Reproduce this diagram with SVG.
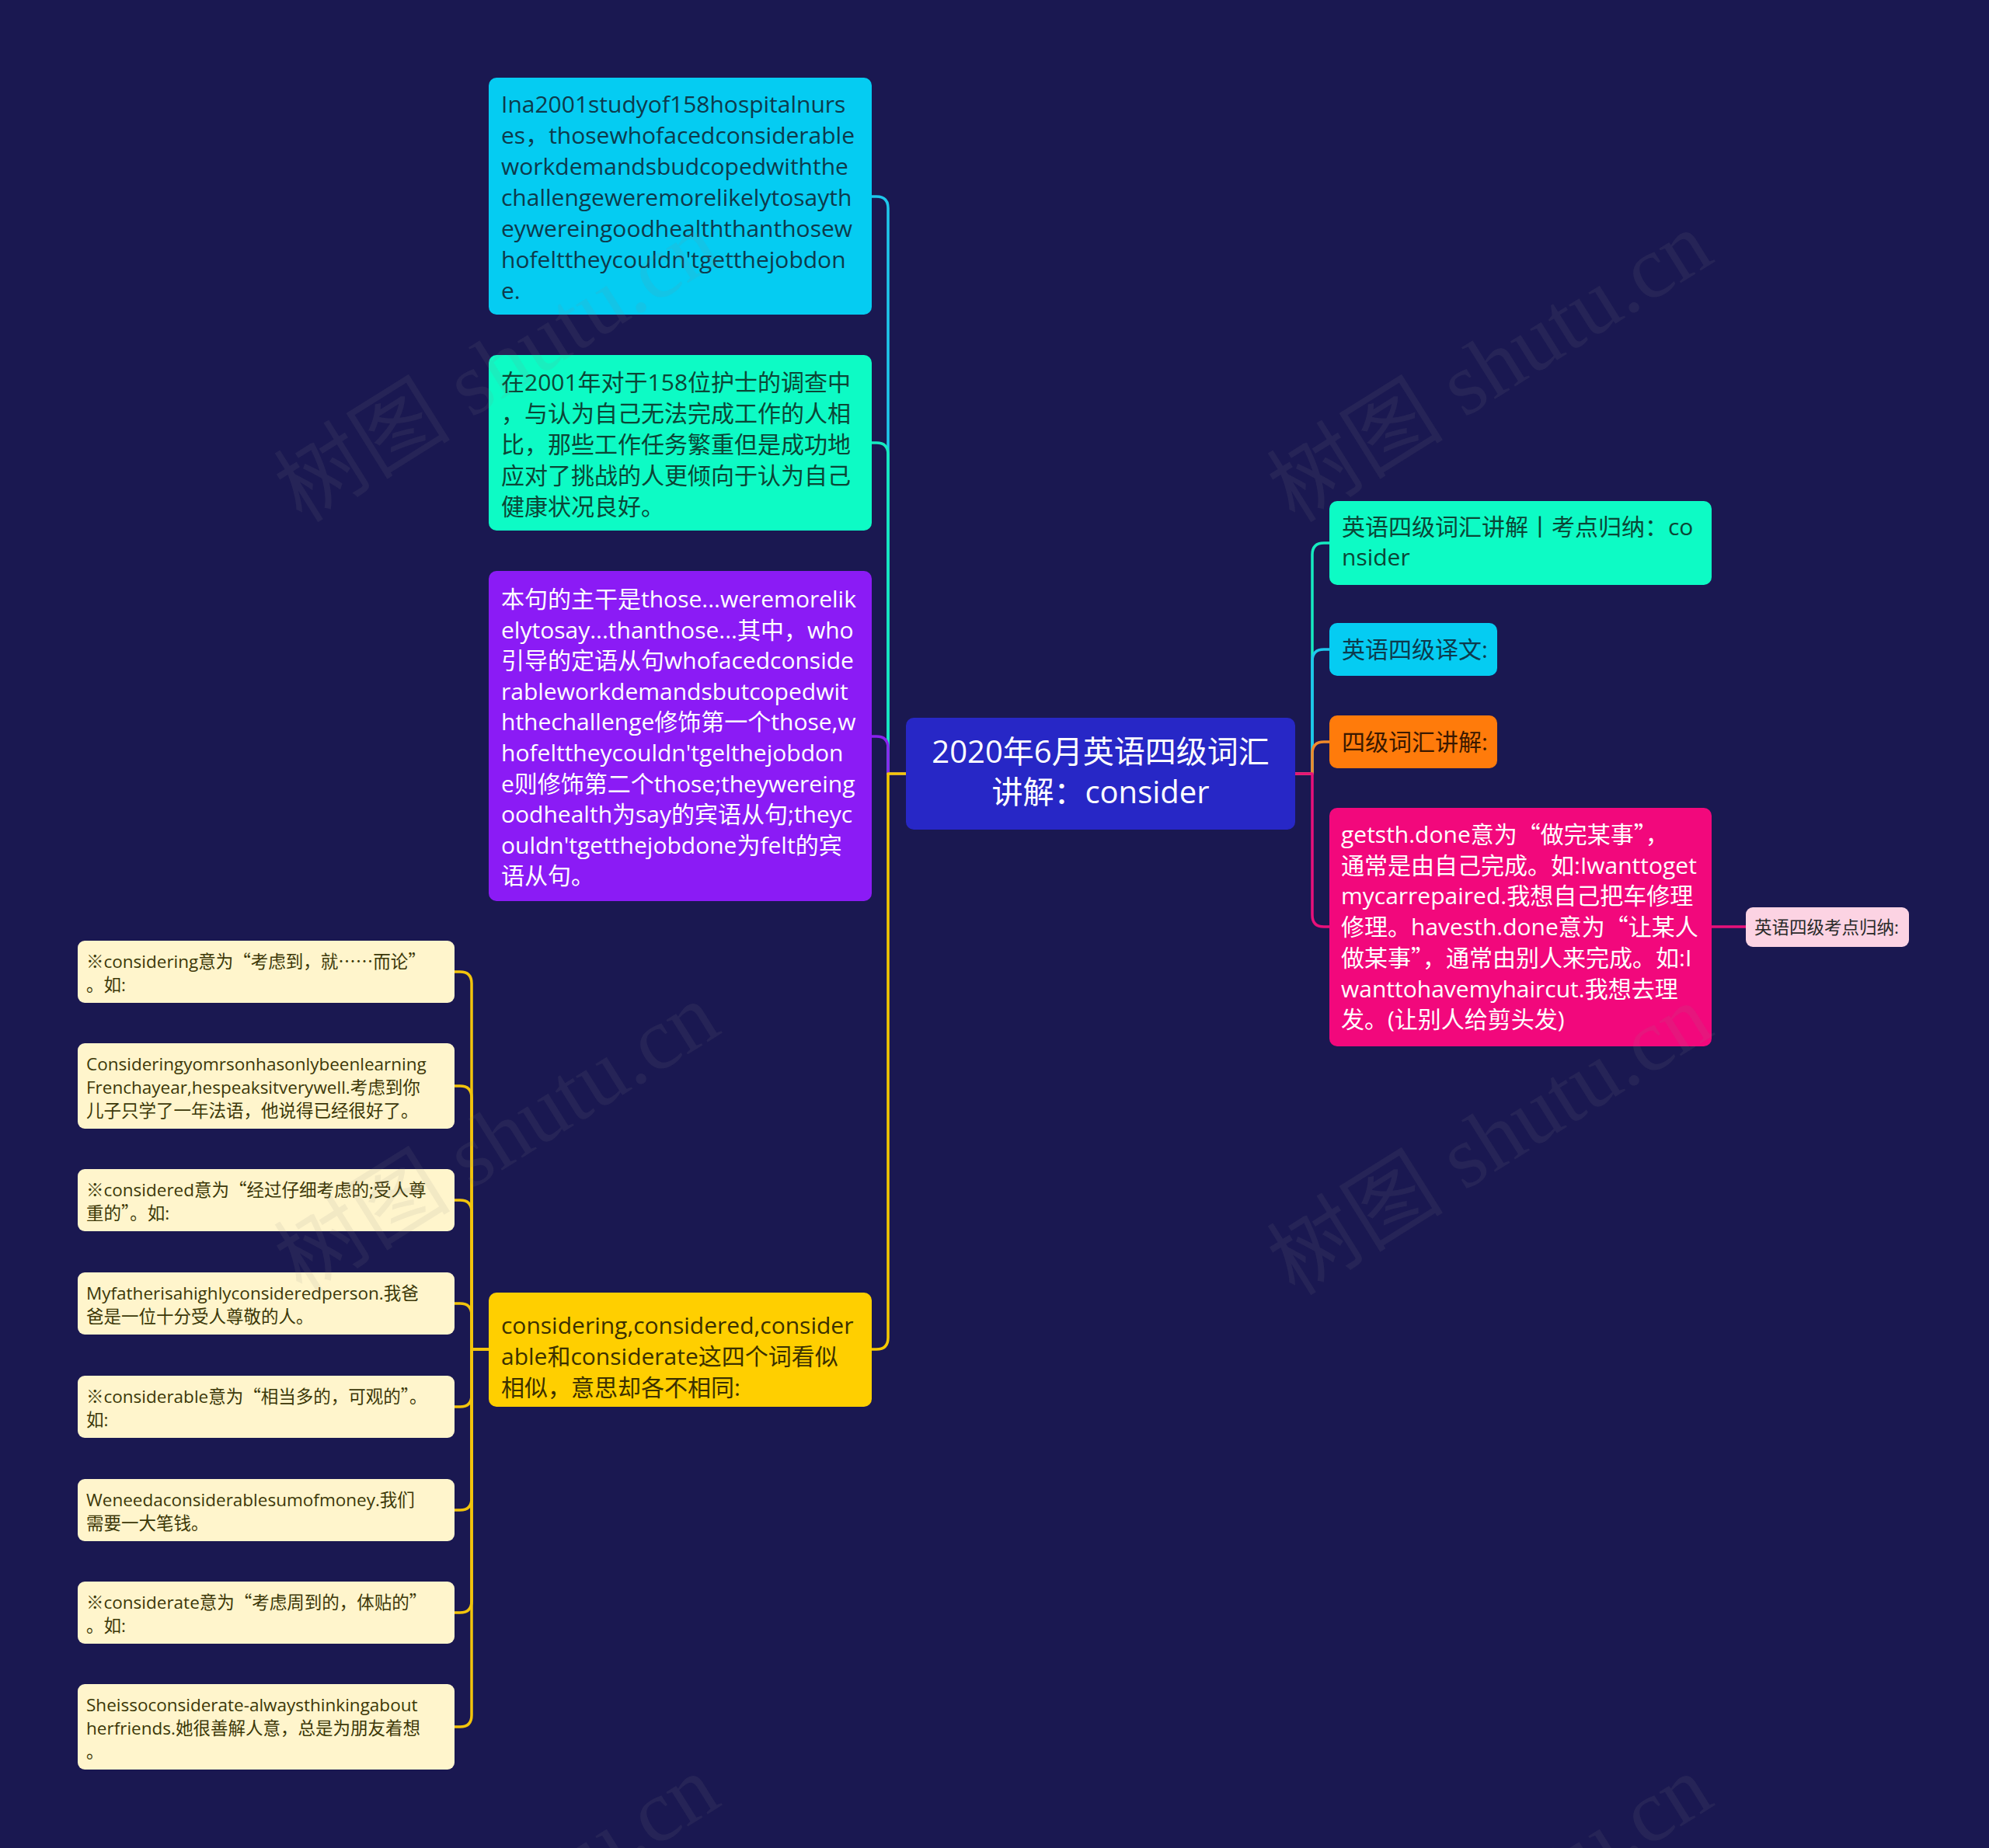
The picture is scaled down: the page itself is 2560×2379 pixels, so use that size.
<svg xmlns="http://www.w3.org/2000/svg" width="2560" height="2379" viewBox="0 0 2560 2379">
<style>
text{font-family:"Open Sans","Noto Sans CJK SC",sans-serif;}
.q{font-family:"Noto Sans CJK SC",sans-serif;}
.t30{font-size:30px;}
.t22{font-size:22.5px;}
.c{fill:none;stroke-width:3.5;stroke-linecap:round;stroke-linejoin:round;}
.wm{font-family:"Liberation Serif","Noto Sans CJK SC",serif;font-size:114px;fill:#8a8a8a;fill-opacity:0.11;}
</style>
<rect x="0" y="0" width="2560" height="2379" fill="#1a1851"/>
<g id="connectors">
<path class="c" stroke="#1ec8ec" d="M1166 996 H1143 V268 Q1143 253 1128 253 H1122"/>
<path class="c" stroke="#16eac0" d="M1166 996 H1143 V585 Q1143 570 1128 570 H1122"/>
<path class="c" stroke="#8a22ee" d="M1166 996 H1143 V963 Q1143 948 1128 948 H1122"/>
<path class="c" stroke="#f5c800" d="M1166 996 H1143 V1722 Q1143 1737 1128 1737 H1122"/>
<path class="c" stroke="#16eac0" d="M1667 996 H1689 V714 Q1689 699 1704 699 H1711"/>
<path class="c" stroke="#1ec8ec" d="M1667 996 H1689 V851 Q1689 836 1704 836 H1711"/>
<path class="c" stroke="#f08a2a" d="M1667 996 H1689 V970 Q1689 955 1704 955 H1711"/>
<path class="c" stroke="#e8107a" d="M1667 996 H1689 V1178 Q1689 1193 1704 1193 H1711"/>
<path class="c" stroke="#e8107a" d="M2203 1193 H2247"/>
<g stroke="#f2c40c">
<path class="c" d="M629 1737 H607 V1266 Q607 1251 592 1251 H585"/>
<path class="c" d="M629 1737 H607 V1413 Q607 1398 592 1398 H585"/>
<path class="c" d="M629 1737 H607 V1560 Q607 1545 592 1545 H585"/>
<path class="c" d="M629 1737 H607 V1693 Q607 1678 592 1678 H585"/>
<path class="c" d="M629 1737 H607 V1796 Q607 1811 592 1811 H585"/>
<path class="c" d="M629 1737 H607 V1929 Q607 1944 592 1944 H585"/>
<path class="c" d="M629 1737 H607 V2061 Q607 2076 592 2076 H585"/>
<path class="c" d="M629 1737 H607 V2208 Q607 2223 592 2223 H585"/>
</g>
</g>
<g id="n-center">
<rect x="1166" y="924" width="501" height="144" rx="10" fill="#2727c6"/>
<text x="1416.5" y="982" font-size="40" fill="#ffffff" text-anchor="middle">2020年6月英语四级词汇</text>
<text x="1416.5" y="1034" font-size="40" fill="#ffffff" text-anchor="middle">讲解：consider</text>
</g>
<g id="n-study" class="t30">
<rect x="629" y="100" width="493" height="305" rx="10" fill="#05ccf2"/>
<g fill="#0d3a4c">
<text x="645" y="145">Ina2001studyof158hospitalnurs</text>
<text x="645" y="185">es，thosewhofacedconsiderable</text>
<text x="645" y="225">workdemandsbudcopedwiththe</text>
<text x="645" y="265">challengeweremorelikelytosayth</text>
<text x="645" y="305">eywereingoodhealththanthosew</text>
<text x="645" y="345">hofelttheycouldn'tgetthejobdon</text>
<text x="645" y="385">e.</text>
</g>
</g>
<g id="n-translation" class="t30">
<rect x="629" y="457" width="493" height="226" rx="10" fill="#0dfbc5"/>
<g fill="#0b4636">
<text x="645" y="503">在2001年对于158位护士的调查中</text>
<text x="645" y="543">，与认为自己无法完成工作的人相</text>
<text x="645" y="583">比，那些工作任务繁重但是成功地</text>
<text x="645" y="623">应对了挑战的人更倾向于认为自己</text>
<text x="645" y="663">健康状况良好。</text>
</g>
</g>
<g id="n-analysis" class="t30">
<rect x="629" y="735" width="493" height="425" rx="10" fill="#8b1bf5"/>
<g fill="#ffffff">
<text x="645" y="782">本句的主干是those...weremorelik</text>
<text x="645" y="821.6">elytosay...thanthose...其中，who</text>
<text x="645" y="861.2">引导的定语从句whofacedconside</text>
<text x="645" y="900.8">rableworkdemandsbutcopedwit</text>
<text x="645" y="940.4">hthechallenge修饰第一个those,w</text>
<text x="645" y="980">hofelttheycouldn'tgelthejobdon</text>
<text x="645" y="1019.6">e则修饰第二个those;theywereing</text>
<text x="645" y="1059.2">oodhealth为say的宾语从句;theyc</text>
<text x="645" y="1098.8">ouldn'tgetthejobdone为felt的宾</text>
<text x="645" y="1138.4">语从句。</text>
</g>
</g>
<g id="n-four-words" class="t30">
<rect x="629" y="1664" width="493" height="147" rx="10" fill="#ffcf00"/>
<g fill="#3b3000">
<text x="645" y="1717">considering,considered,consider</text>
<text x="645" y="1757">able和considerate这四个词看似</text>
<text x="645" y="1797">相似，意思却各不相同:</text>
</g>
</g>
<g id="n-title" class="t30">
<rect x="1711" y="645" width="492" height="108" rx="10" fill="#0dfbc5"/>
<g fill="#0b4636">
<text x="1727" y="689">英语四级词汇讲解丨考点归纳：co</text>
<text x="1727" y="728">nsider</text>
</g>
</g>
<g id="n-yiwen" class="t30">
<rect x="1711" y="802" width="216" height="68" rx="10" fill="#05ccf2"/>
<text x="1727" y="847" fill="#0d3a4c">英语四级译文:</text>
</g>
<g id="n-cihui" class="t30">
<rect x="1711" y="921" width="216" height="68" rx="10" fill="#ff7b0b"/>
<text x="1727" y="966" fill="#3a1800">四级词汇讲解:</text>
</g>
<g id="n-getsth" class="t30">
<rect x="1711" y="1040" width="492" height="307" rx="10" fill="#f2087c"/>
<g fill="#ffffff">
<text x="1726" y="1085">getsth.done意为<tspan class="q">“</tspan>做完某事<tspan class="q">”</tspan>，</text>
<text x="1726" y="1124.7">通常是由自己完成。如:Iwanttoget</text>
<text x="1726" y="1164.4">mycarrepaired.我想自己把车修理</text>
<text x="1726" y="1204.1">修理。havesth.done意为<tspan class="q">“</tspan>让某人</text>
<text x="1726" y="1243.8">做某事<tspan class="q">”</tspan>，通常由别人来完成。如:I</text>
<text x="1726" y="1283.5">wanttohavemyhaircut.我想去理</text>
<text x="1726" y="1323.2">发。(让别人给剪头发)</text>
</g>
</g>
<g id="n-kaodian" class="t22">
<rect x="2247" y="1168" width="210" height="51" rx="9" fill="#fcd3e3"/>
<text x="2258" y="1202" fill="#2a2a2a">英语四级考点归纳:</text>
</g>
<g class="t22" fill="#3c3808">
<g id="n-a">
<rect x="100" y="1211" width="485" height="80" rx="9" fill="#fff5cc"/>
<text x="111" y="1246" fill="#3c3808">※considering意为<tspan class="q">“</tspan>考虑到，就<tspan class="q">……</tspan>而论<tspan class="q">”</tspan></text>
<text x="111" y="1276" fill="#3c3808">。如:</text>
</g>
<g id="n-b">
<rect x="100" y="1343" width="485" height="110" rx="9" fill="#fff5cc"/>
<text x="111" y="1378" fill="#3c3808">Consideringyomrsonhasonlybeenlearning</text>
<text x="111" y="1408" fill="#3c3808">Frenchayear,hespeaksitverywell.考虑到你</text>
<text x="111" y="1438" fill="#3c3808">儿子只学了一年法语，他说得已经很好了。</text>
</g>
<g id="n-c">
<rect x="100" y="1505" width="485" height="80" rx="9" fill="#fff5cc"/>
<text x="111" y="1540" fill="#3c3808">※considered意为<tspan class="q">“</tspan>经过仔细考虑的;受人尊</text>
<text x="111" y="1570" fill="#3c3808">重的<tspan class="q">”</tspan>。如:</text>
</g>
<g id="n-d">
<rect x="100" y="1638" width="485" height="80" rx="9" fill="#fff5cc"/>
<text x="111" y="1673" fill="#3c3808">Myfatherisahighlyconsideredperson.我爸</text>
<text x="111" y="1703" fill="#3c3808">爸是一位十分受人尊敬的人。</text>
</g>
<g id="n-e">
<rect x="100" y="1771" width="485" height="80" rx="9" fill="#fff5cc"/>
<text x="111" y="1806" fill="#3c3808">※considerable意为<tspan class="q">“</tspan>相当多的，可观的<tspan class="q">”</tspan>。</text>
<text x="111" y="1836" fill="#3c3808">如:</text>
</g>
<g id="n-f">
<rect x="100" y="1904" width="485" height="80" rx="9" fill="#fff5cc"/>
<text x="111" y="1939" fill="#3c3808">Weneedaconsiderablesumofmoney.我们</text>
<text x="111" y="1969" fill="#3c3808">需要一大笔钱。</text>
</g>
<g id="n-g">
<rect x="100" y="2036" width="485" height="80" rx="9" fill="#fff5cc"/>
<text x="111" y="2071" fill="#3c3808">※considerate意为<tspan class="q">“</tspan>考虑周到的，体贴的<tspan class="q">”</tspan></text>
<text x="111" y="2101" fill="#3c3808">。如:</text>
</g>
<g id="n-h">
<rect x="100" y="2168" width="485" height="110" rx="9" fill="#fff5cc"/>
<text x="111" y="2203" fill="#3c3808">Sheissoconsiderate-alwaysthinkingabout</text>
<text x="111" y="2233" fill="#3c3808">herfriends.她很善解人意，总是为朋友着想</text>
<text x="111" y="2263" fill="#3c3808">。</text>
</g>
</g>
<g id="watermarks">
<text class="wm" transform="translate(660 505) rotate(-32)" text-anchor="middle">树图 shutu.cn</text>
<text class="wm" transform="translate(1938 505) rotate(-32)" text-anchor="middle">树图 shutu.cn</text>
<text class="wm" transform="translate(660 1498) rotate(-32)" text-anchor="middle">树图 shutu.cn</text>
<text class="wm" transform="translate(1938 1500) rotate(-32)" text-anchor="middle">树图 shutu.cn</text>
<text class="wm" transform="translate(660 2492) rotate(-32)" text-anchor="middle">树图 shutu.cn</text>
<text class="wm" transform="translate(1938 2492) rotate(-32)" text-anchor="middle">树图 shutu.cn</text>
</g>
</svg>
